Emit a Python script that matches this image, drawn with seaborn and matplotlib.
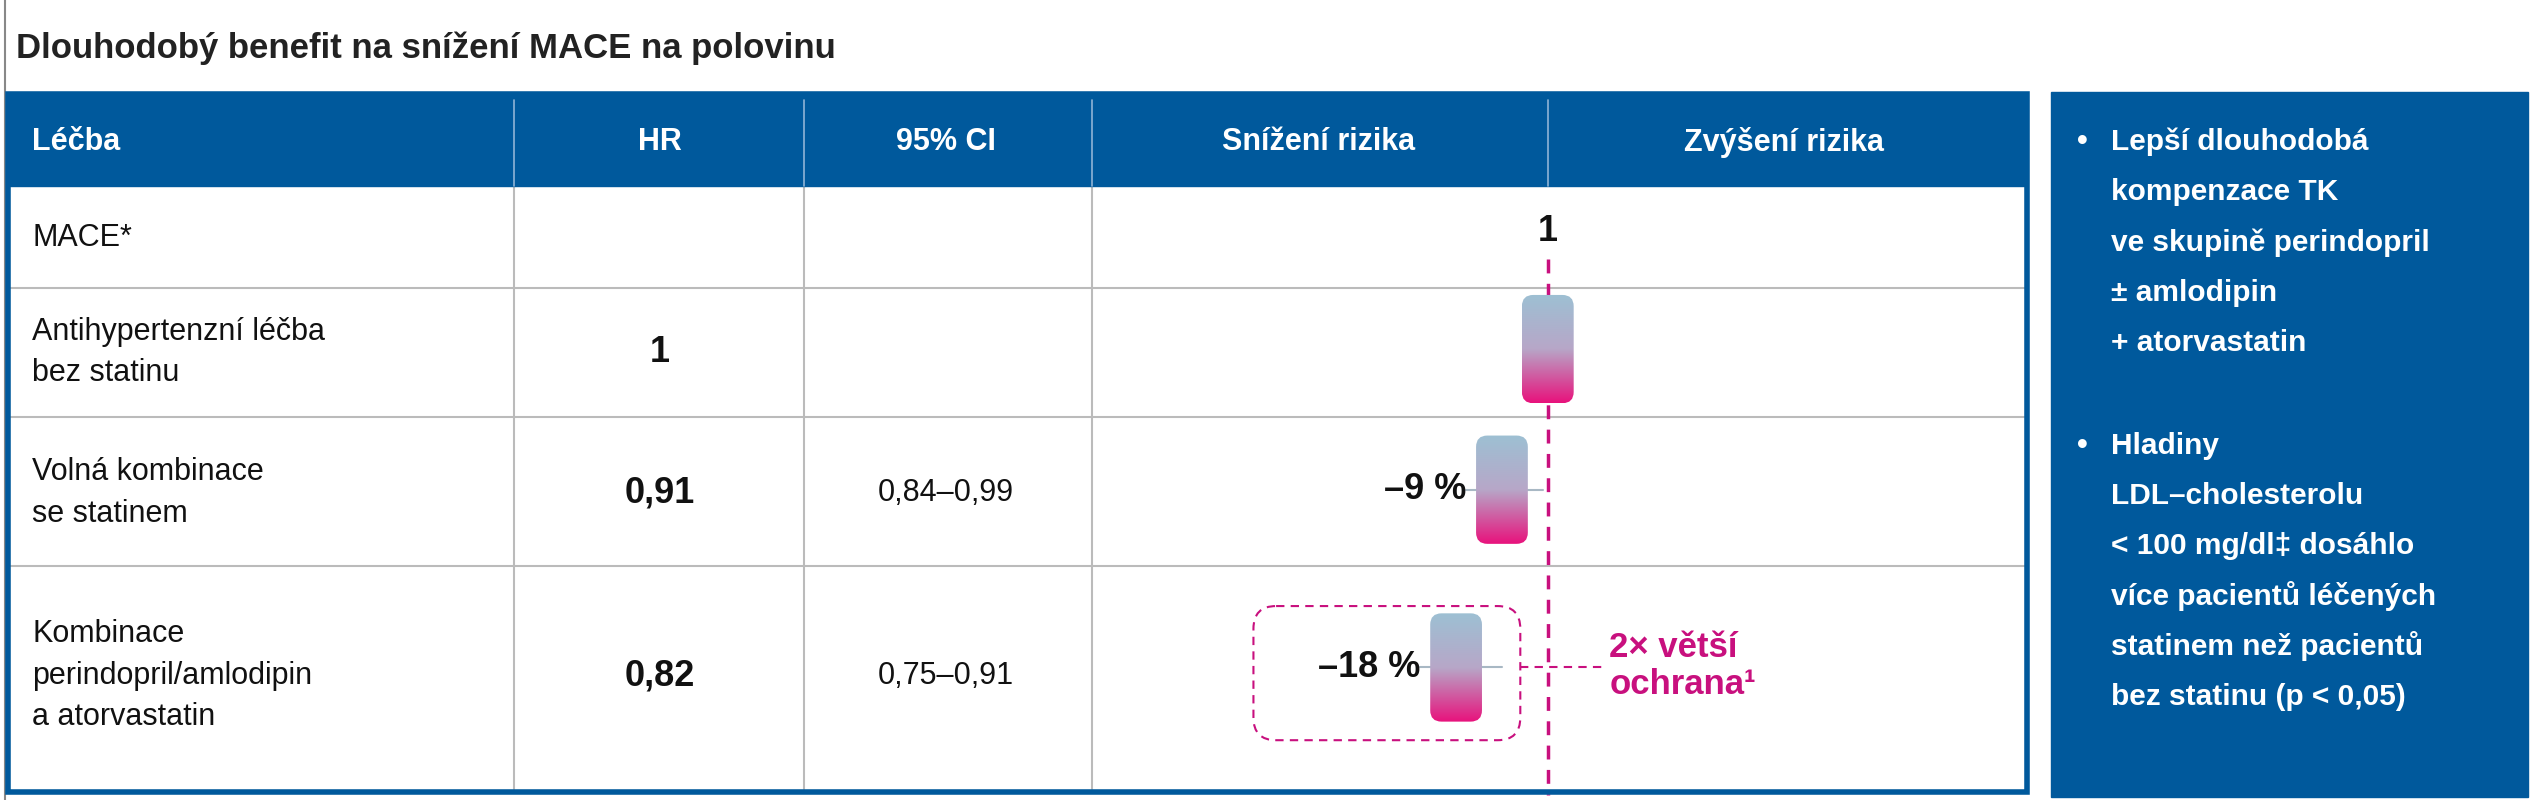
import numpy as np
import matplotlib
matplotlib.use("Agg")
import matplotlib.pyplot as plt
import seaborn as sns
import pandas as pd
from matplotlib.patches import FancyBboxPatch, Rectangle
from matplotlib.colors import LinearSegmentedColormap

title = "Dlouhodobý benefit na snížení MACE na polovinu"
headers = ["Léčba", "HR", "95% CI", "Snížení rizika", "Zvýšení rizika"]
row_labels = ["MACE*", "Antihypertenzní léčba\nbez statinu", "Volná kombinace\nse statinem",
              "Kombinace\nperindopril/amlodipin\na atorvastatin"]
hr_text = ["", "1", "0,91", "0,82"]
ci_text = ["", "", "0,84–0,99", "0,75–0,91"]
hr_vals = [1.0, 0.91, 0.82]
ci_low = [np.nan, 0.84, 0.75]
ci_high = [np.nan, 0.99, 0.91]
reduction = ["", "–9 %", "–18 %"]
callout = "2× větší\nochrana¹"
bullet1 = ["Lepší dlouhodobá", "kompenzace TK", "ve skupině perindopril", "± amlodipin", "+ atorvastatin"]
bullet2 = ["Hladiny", "LDL–cholesterolu", "< 100 mg/dl‡ dosáhlo", "více pacientů léčených",
           "statinem než pacientů", "bez statinu (p < 0,05)"]

sns.set_theme(style="white")
FAM = ["Liberation Sans Narrow", "Liberation Sans", "DejaVu Sans"]
plt.rcParams["font.family"] = FAM

BLUE = "#00599C"
MAG = "#C8107E"
GRID = "#BBBBBB"

fig = plt.figure(figsize=(25.36, 8), dpi=100)
ax = fig.add_axes([0, 0, 1, 1])
ax.set_xlim(0, 1568)
ax.set_ylim(495, 0)
ax.axis("off")

ax.text(10, 30, title, fontsize=25, fontweight="bold", va="center", color="#222222")
ax.plot([3, 3], [0, 495], color="#888888", lw=1.5)

# table frame
ax.add_patch(Rectangle((5, 58), 1248, 432, fill=False, ec=BLUE, lw=4, zorder=5))
ax.add_patch(Rectangle((5, 58), 1248, 57, color=BLUE, zorder=4))
col_sep = [318, 497, 675, 957]
for x in col_sep:
    ax.plot([x, x], [62, 115], color="#8FB4D6", lw=1.2, zorder=5)
for x in col_sep[:3]:
    ax.plot([x, x], [115, 488], color=GRID, lw=1.5, zorder=1)
for y in [178, 258, 350]:
    ax.plot([5, 1253], [y, y], color=GRID, lw=1.5, zorder=1)

hdr_x = [20, 408, 585, 815, 1103]
for i, (h, x) in enumerate(zip(headers, hdr_x)):
    ax.text(x, 88, h, color="white", fontsize=22, fontweight="bold",
            ha="left" if i == 0 else "center", va="center", zorder=6)

row_y = [147, 218, 305, 418]
for lab, y in zip(row_labels, row_y):
    ax.text(20, y, lab, fontsize=22, va="center", linespacing=1.5, color="#111111")
for t, y in zip(hr_text, row_y):
    ax.text(408, y, t, fontsize=26, fontweight="bold", ha="center", va="center", color="#111111")
for t, y in zip(ci_text, row_y):
    ax.text(585, y, t, fontsize=22, ha="center", va="center", color="#111111")

ax.text(957, 143, "1", fontsize=26, fontweight="bold", ha="center", va="center", color="#111111")

# forest part
X0, K = 957, 315
bar_y = [216, 303, 413]
pos = lambda v: X0 + (np.asarray(v) - 1) * K
cmap = LinearSegmentedColormap.from_list("g", ["#9DC0D3", "#B7A7C8", "#E8127C"])
grad = np.linspace(0, 1, 256).reshape(-1, 1)

wdf = pd.DataFrame({"x": np.concatenate([pos(ci_low[1:]), pos(ci_high[1:])]),
                    "y": bar_y[1:] * 2, "g": [1, 2, 1, 2]})
sns.lineplot(data=wdf, x="x", y="y", units="g", estimator=None, orient="y",
             color="#A8B8C4", lw=1.5, ax=ax, legend=False)

for v, y in zip(hr_vals, bar_y):
    cx = float(pos(v))
    w, h = 32, 67
    box = FancyBboxPatch((cx - w / 2, y - h / 2), w, h, boxstyle="round,pad=0,rounding_size=7",
                         fc="none", ec="none", zorder=3)
    ax.add_patch(box)
    im = ax.imshow(grad, cmap=cmap, extent=[cx - w / 2, cx + w / 2, y + h / 2, y - h / 2],
                   aspect="auto", zorder=3)
    im.set_clip_path(box)

ax.text(float(pos(hr_vals[1])) - 22, 303, reduction[1], fontsize=26, fontweight="bold",
        ha="right", va="center", color="#111111")
ax.text(float(pos(hr_vals[2])) - 22, 413, reduction[2], fontsize=26, fontweight="bold",
        ha="right", va="center", color="#111111")

ax.plot([957, 957], [160, 492], color=MAG, lw=2.5, ls=(0, (4, 3)), zorder=2)
ax.add_patch(FancyBboxPatch((775, 375), 165, 83, boxstyle="round,pad=0,rounding_size=14",
                            fill=False, ec=MAG, lw=1.5, ls=(0, (4, 3)), zorder=2))
ax.plot([940, 992], [413, 413], color=MAG, lw=1.5, ls=(0, (4, 3)), zorder=2)
ax.text(995, 412, callout, fontsize=25, fontweight="bold", color=MAG, va="center", linespacing=1.15)
ax.set_xlim(0, 1568)
ax.set_ylim(495, 0)

# right panel
ax.add_patch(Rectangle((1268, 57), 295, 436, color=BLUE, zorder=1))
for block, y0 in [(bullet1, 88), (bullet2, 276)]:
    ax.text(1284, y0, "•", color="white", fontsize=22, fontweight="bold", va="center")
    for j, line in enumerate(block):
        ax.text(1305, y0 + j * 31, line, color="white", fontsize=21.5, fontweight="bold", va="center")

fig.savefig("out.png", dpi=100)
